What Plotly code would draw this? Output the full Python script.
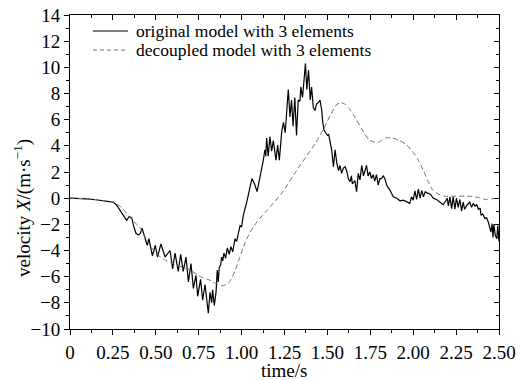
import plotly.graph_objects as go

# Velocity response, original model with 3 elements
orig_time = [
    0, 0.05, 0.1, 0.15, 0.2, 0.25, 0.27, 0.29,
    0.31, 0.33, 0.345, 0.36, 0.37, 0.385, 0.40, 0.41, 0.42, 0.437, 0.45, 0.46,
    0.48, 0.497, 0.51, 0.53, 0.554, 0.583, 0.598, 0.612, 0.631, 0.645, 0.66,
    0.676, 0.69, 0.705, 0.719, 0.734, 0.744, 0.761, 0.773, 0.787, 0.806, 0.816,
    0.826, 0.831, 0.841, 0.851, 0.858, 0.864, 0.87, 0.878, 0.884, 0.89, 0.897,
    0.907, 0.917, 0.928, 0.938, 0.948, 0.962, 0.971, 0.991, 1.0, 1.01, 1.03,
    1.039, 1.049, 1.06, 1.075, 1.09, 1.107, 1.12, 1.125, 1.136, 1.141, 1.146,
    1.155, 1.165, 1.175, 1.185, 1.2, 1.21, 1.22, 1.234, 1.244, 1.254, 1.263,
    1.272, 1.282, 1.291, 1.30, 1.31, 1.32, 1.33, 1.34, 1.345, 1.355, 1.365,
    1.372, 1.38, 1.39, 1.40, 1.408, 1.418, 1.428, 1.437, 1.447, 1.457, 1.467,
    1.473, 1.48, 1.49, 1.50, 1.507, 1.515, 1.525, 1.535, 1.545, 1.555, 1.565,
    1.573, 1.583, 1.593, 1.603, 1.612, 1.622, 1.632, 1.64, 1.645, 1.66, 1.67,
    1.68, 1.69, 1.70, 1.71, 1.72, 1.728, 1.737, 1.747, 1.757, 1.767, 1.776,
    1.786, 1.796, 1.806, 1.815, 1.825, 1.835, 1.845, 1.865, 1.884, 1.904,
    1.923, 1.942, 1.96, 1.98, 1.99, 2.0, 2.01, 2.02, 2.03, 2.04, 2.05, 2.06,
    2.07, 2.08, 2.10, 2.117, 2.136, 2.156, 2.175, 2.19, 2.198, 2.205, 2.214,
    2.224, 2.233, 2.243, 2.252, 2.262, 2.272, 2.282, 2.291, 2.30, 2.315, 2.33,
    2.34, 2.35, 2.36, 2.37, 2.38, 2.39, 2.395, 2.405, 2.418, 2.428, 2.437,
    2.447, 2.453, 2.46, 2.465, 2.47, 2.478, 2.487, 2.493, 2.5,
]
orig_velocity = [
    0, -0.02, -0.06, -0.12, -0.2, -0.3, -0.5, -0.9,
    -1.4, -1.7, -1.4, -1.5, -2.1, -2.7, -2.8, -2.7, -2.3, -3.1, -3.6, -3.1,
    -4.4, -3.6, -4.5, -3.5, -4.5, -4.0, -5.4, -4.2, -5.6, -4.3, -5.6,
    -4.5, -6.4, -5.0, -6.9, -5.9, -7.5, -6.2, -7.8, -6.6, -8.8, -7.2,
    -8.0, -7.0, -8.2, -7.2, -5.5, -6.4, -5.3, -5.1, -4.5, -4.8, -4.2,
    -4.6, -3.8, -4.3, -3.7, -4.1, -3.1, -3.3, -2.1, -2.2, -1.3, -0.3,
    0.2, 1.0, 1.5, 1.1, 0.5, 1.6, 2.4, 2.8, 3.7, 3.2, 4.6,
    3.2, 4.7, 3.6, 4.4, 2.9, 4.05, 2.9, 5.1, 5.8, 5.0, 6.9,
    8.3, 6.2, 7.5, 5.5, 7.7, 4.8, 7.5, 7.4, 8.5, 7.7, 9.3,
    10.3, 8.3, 9.8, 7.5, 8.5, 6.9, 6.7, 7.2, 7.3, 7.5, 6.7,
    5.8, 5.2, 5.0, 4.8, 4.9, 4.2, 3.7, 2.4, 3.7, 2.65, 2.1,
    2.5, 1.9, 2.3, 2.4, 2.1, 1.5, 1.25, 1.7, 1.1, 1.35, 0.5,
    1.9, 1.4, 2.5, 1.7, 2.1, 2.5, 1.7, 2.0, 1.5, 1.8, 1.3,
    1.8, 1.0, 1.5, 1.5, 1.7, 1.5, 1.0, 0.6, 0.1, 0.0,
    -0.2, -0.15, -0.3, -0.4, 0.1, -0.15, 0.55, -0.1, 0.7, 0.0, 0.6, 0.1,
    0.5, 0.4, 0.3, 0.0, -0.1, -0.3, -0.5, -0.2, 0.0, -0.6, 0.1,
    -0.8, 0.1, -0.85, 0.0, -0.7, -0.1, -1.0, -0.3, -0.85, -0.5, -0.3,
    -0.7, -0.4, -0.6, -0.5, -0.85, -0.75, -1.3, -1.2, -1.55, -1.5, -1.8,
    -2.3, -2.6, -1.95, -3.0, -2.0, -2.8, -3.1, -2.1, -3.3,
]

# Velocity response, decoupled model with 3 elements
dec_time = [
    0, 0.1, 0.2, 0.25, 0.3, 0.35, 0.41, 0.45, 0.5, 0.55, 0.6, 0.7, 0.76,
    0.82, 0.86, 0.885, 0.91, 0.93, 0.96, 0.99, 1.02, 1.05, 1.09, 1.15,
    1.235, 1.33, 1.43, 1.474, 1.52, 1.55, 1.575, 1.6, 1.63, 1.66, 1.7,
    1.74, 1.77, 1.8, 1.84, 1.88, 1.92, 1.96, 2.0, 2.03, 2.06, 2.09, 2.115,
    2.15, 2.185, 2.25, 2.33, 2.38, 2.42, 2.46, 2.5,
]
dec_velocity = [
    0, -0.05, -0.2, -0.3, -0.7, -1.5, -2.3, -3.3, -4.2, -4.7, -5.0, -5.5, -6.0,
    -6.3, -6.6, -6.7, -6.6, -6.4, -5.6, -4.5, -3.4, -2.6, -1.8, -0.9,
    0.4, 2.3, 4.2, 5.2, 6.4, 7.1, 7.3, 7.2, 6.8, 6.2, 5.3,
    4.5, 4.3, 4.3, 4.6, 4.6, 4.4, 4.1, 3.5, 2.9, 2.1, 1.2, 0.6,
    0.3, 0.15, 0.15, 0.15, 0.05, -0.1, -0.05, 0.0,
]

series_names = ["original model with 3 elements",
                "decoupled model with 3 elements"]

x_ticks = [0, 0.25, 0.5, 0.75, 1.0, 1.25, 1.5, 1.75, 2.0, 2.25, 2.5]
x_labels = ["0", "0.25", "0.50", "0.75", "1.00", "1.25", "1.50", "1.75",
            "2.00", "2.25", "2.50"]
y_ticks = list(range(-10, 15, 2))
y_labels = [str(v).replace("-", "\u2212") for v in y_ticks]

FONT = "Liberation Serif, Times New Roman, serif"
X_RANGE = [0, 2.5]
Y_RANGE = [-10, 14]
SOLID = "black"
DASHED = "#707070"

W, H = 523, 380
M_L, M_R, M_T, M_B = 70, 24, 15, 51
PLOT_W = W - M_L - M_R
PLOT_H = H - M_T - M_B


def px_to_paper(px, py):
    """Convert a page pixel position to paper coordinates."""
    return (px - M_L) / PLOT_W, 1 - (py - M_T) / PLOT_H


fig = go.Figure()
fig.add_trace(go.Scatter(
    x=orig_time, y=orig_velocity, mode="lines", name=series_names[0],
    line=dict(color=SOLID, width=1.2), showlegend=False,
))
fig.add_trace(go.Scatter(
    x=dec_time, y=dec_velocity, mode="lines", name=series_names[1],
    line=dict(color=DASHED, width=1, dash="5px,3px", shape="spline",
              smoothing=0.6), showlegend=False,
))

axis_common = dict(
    showgrid=False, zeroline=False, showline=True, linecolor="black",
    linewidth=1, ticklen=5, tickwidth=1, tickcolor="black", automargin=False,
    tickfont=dict(family=FONT, size=19, color="black"),
)

fig.update_layout(
    width=W, height=H,
    margin=dict(l=M_L, r=M_R, t=M_T, b=M_B, autoexpand=False),
    paper_bgcolor="white", plot_bgcolor="white",
    font=dict(family=FONT, size=19, color="black"),
    showlegend=False,
    xaxis=dict(
        **axis_common, range=X_RANGE, ticks="outside", mirror=True,
        tickvals=x_ticks, ticktext=x_labels, ticklabelstandoff=1,
        minor=dict(ticks="outside", ticklen=3, dtick=0.125,
                   tickcolor="black"),
    ),
    yaxis=dict(
        **axis_common, range=Y_RANGE, ticks="outside", mirror=True,
        tickvals=y_ticks, ticktext=y_labels,
        minor=dict(ticks="outside", ticklen=3, dtick=1, tickcolor="black"),
    ),
    # inward-facing ticks along the top and right edges
    xaxis2=dict(
        overlaying="x", side="top", range=X_RANGE, showgrid=False,
        zeroline=False, showline=False, ticks="inside", ticklen=5,
        tickcolor="black", tickvals=x_ticks, showticklabels=False,
        automargin=False,
        minor=dict(ticks="inside", ticklen=3, dtick=0.125,
                   tickcolor="black"),
    ),
    yaxis2=dict(
        overlaying="y", side="right", range=Y_RANGE, showgrid=False,
        zeroline=False, showline=False, ticks="inside", ticklen=5,
        tickcolor="black", tickvals=y_ticks, showticklabels=False,
        automargin=False,
        minor=dict(ticks="inside", ticklen=3, dtick=1, tickcolor="black"),
    ),
)

# invisible carrier trace so the top/right axes are drawn
fig.add_trace(go.Scatter(x=X_RANGE, y=Y_RANGE, xaxis="x2", yaxis="y2",
                         mode="lines", line=dict(width=0), opacity=0,
                         showlegend=False, hoverinfo="skip"))

# x-axis title
tx, ty = px_to_paper(284, 370)
fig.add_annotation(
    text="time/s", xref="paper", yref="paper", x=tx, y=ty,
    showarrow=False, font=dict(family=FONT, size=19, color="black"),
    xanchor="center", yanchor="middle",
)

# y-axis title, placed a little below the vertical centre
tx, ty = px_to_paper(22, 208)
fig.add_annotation(
    text="velocity <i>X</i>/(m·s<sup>−1</sup>)", xref="paper", yref="paper",
    x=tx, y=ty, textangle=-90, showarrow=False,
    font=dict(family=FONT, size=19, color="black"),
    xanchor="center", yanchor="middle",
)

# legend: line sample plus label for each series
legend_rows = [(31, SOLID, "solid", 1.2), (50, DASHED, "4px,3px", 1)]
for name, (row_y, colour, dash, lw) in zip(series_names, legend_rows):
    x0, y0 = px_to_paper(93, row_y)
    x1, _ = px_to_paper(128, row_y)
    fig.add_shape(type="line", xref="paper", yref="paper",
                  x0=x0, x1=x1, y0=y0, y1=y0,
                  line=dict(color=colour, width=lw, dash=dash))
    lx, ly = px_to_paper(134, row_y)
    fig.add_annotation(text=name, xref="paper", yref="paper", x=lx, y=ly,
                       xanchor="left", yanchor="middle", showarrow=False,
                       font=dict(family=FONT, size=17.5, color="black"))

fig.write_html("out.html")
